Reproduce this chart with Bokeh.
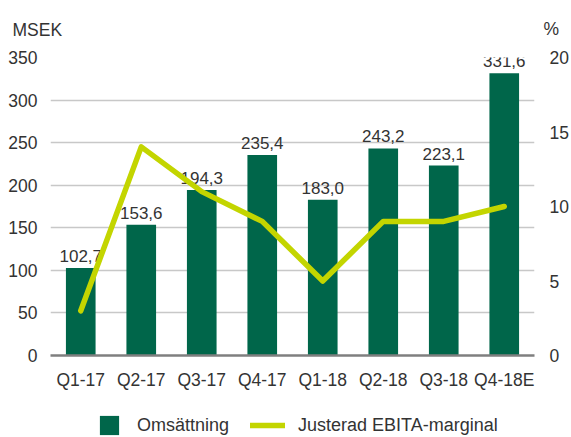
from bokeh.plotting import figure
from bokeh.layouts import column
from bokeh.core.properties import value
from bokeh.models import Range1d, LinearAxis, FixedTicker, Legend, LegendItem, Label, ColumnDataSource
from bokeh.embed import file_html
from bokeh.resources import INLINE

categories = ["Q1-17", "Q2-17", "Q3-17", "Q4-17", "Q1-18", "Q2-18", "Q3-18", "Q4-18E"]
revenue = [102.7, 153.6, 194.3, 235.4, 183.0, 243.2, 223.1, 331.6]
ebita_margin = [3, 14, 11, 9, 5, 9, 9, 10]
left_ticks = [0, 50, 100, 150, 200, 250, 300, 350]
right_ticks = [0, 5, 10, 15, 20]
series_names = ["Omsättning", "Justerad EBITA-marginal"]

FONT = "Liberation Sans"
TXT = "#333333"
GREEN = "#00664A"
LIME = "#C3D500"

src = ColumnDataSource(dict(
    cat=categories,
    rev=revenue,
    lbl=[f"{v:.1f}".replace(".", ",") for v in revenue],
    m=ebita_margin,
))

p = figure(x_range=categories, y_range=Range1d(0, 350), width=571, height=392,
           output_backend="svg", toolbar_location=None,
           min_border_left=50, min_border_right=33, min_border_top=57, min_border_bottom=36)
p.extra_y_ranges = {"pct": Range1d(0, 20)}
p.outline_line_color = None
p.background_fill_color = "white"
p.border_fill_color = "white"
p.xgrid.visible = False
p.ygrid.grid_line_color = "#c8c8c8"
p.ygrid.grid_line_width = 1.5

p.yaxis.ticker = FixedTicker(ticks=left_ticks)
ya = p.yaxis[0]
ya.axis_line_color = None
ya.major_tick_line_color = None
ya.minor_tick_line_color = None
ya.major_label_standoff = 7
ya.major_label_text_font = FONT
ya.major_label_text_font_size = "17.5px"
ya.major_label_text_color = TXT

right = LinearAxis(y_range_name="pct", ticker=FixedTicker(ticks=right_ticks))
right.axis_line_color = None
right.major_tick_line_color = None
right.minor_tick_line_color = None
right.major_label_standoff = 9
right.major_label_text_font = FONT
right.major_label_text_font_size = "17.5px"
right.major_label_text_color = TXT
p.add_layout(right, "right")

xa = p.xaxis[0]
xa.axis_line_color = "#7f7f7f"
xa.axis_line_width = 2.5
xa.major_tick_line_color = None
xa.minor_tick_line_color = None
xa.major_label_standoff = 8
xa.major_label_text_font = FONT
xa.major_label_text_font_size = "17.5px"
xa.major_label_text_color = TXT

p.vbar(x="cat", top="rev", width=0.49, source=src, fill_color=GREEN, line_color=None)
p.text(x="cat", y="rev", text="lbl", source=src, text_align="center", text_baseline="alphabetic",
       y_offset=-12, text_font=value(FONT), text_font_size="17px", text_color=TXT)
p.line(x="cat", y="m", source=src, y_range_name="pct", line_color=LIME, line_width=5.5,
       line_cap="round", line_join="round")

p.add_layout(Label(x=0, y=350, x_offset=-38, y_offset=28, text="MSEK", text_font=FONT,
                   text_font_size="17.5px", text_color=TXT, text_baseline="alphabetic"), "above")
p.add_layout(Label(x=8, y=350, x_offset=9, y_offset=29, text="%", text_font=FONT,
                   text_font_size="17.5px", text_color=TXT, text_baseline="alphabetic"), "above")

# legend strip below the chart (frames are aligned with the chart above)
lf = figure(width=571, height=45, x_range=Range1d(0, 1), y_range=Range1d(0, 1),
            output_backend="svg", toolbar_location=None,
            x_axis_location=None, y_axis_location=None,
            min_border_left=0, min_border_right=0, min_border_top=0, min_border_bottom=0)
lf.outline_line_color = None
lf.grid.visible = False
lf.background_fill_color = "white"
lf.border_fill_color = "white"
empty = ColumnDataSource(dict(x=[float("nan")], y=[float("nan")]))
r_bar = lf.vbar(x="x", top="y", width=0.5, source=empty, fill_color=GREEN, line_color=None)
r_line = lf.line(x="x", y="y", source=empty, line_color=LIME, line_width=5.5, line_cap="round")

def mk_legend(item, gw, standoff, loc):
    return Legend(items=[item], location=loc, orientation="horizontal",
                  glyph_width=gw, glyph_height=24, label_standoff=standoff,
                  label_text_font=FONT, label_text_font_size="18px", label_text_color=TXT,
                  border_line_color=None, background_fill_alpha=0, padding=0, margin=0,
                  spacing=0, label_height=24)

lf.add_layout(mk_legend(LegendItem(label=series_names[0], renderers=[r_bar]), 24, 16, (47, 0)))
lf.add_layout(mk_legend(LegendItem(label=series_names[1], renderers=[r_line]), 35, 13, (200, 0)))

layout = column(p, lf, spacing=0)
open("out.html", "w").write(file_html(layout, INLINE))
